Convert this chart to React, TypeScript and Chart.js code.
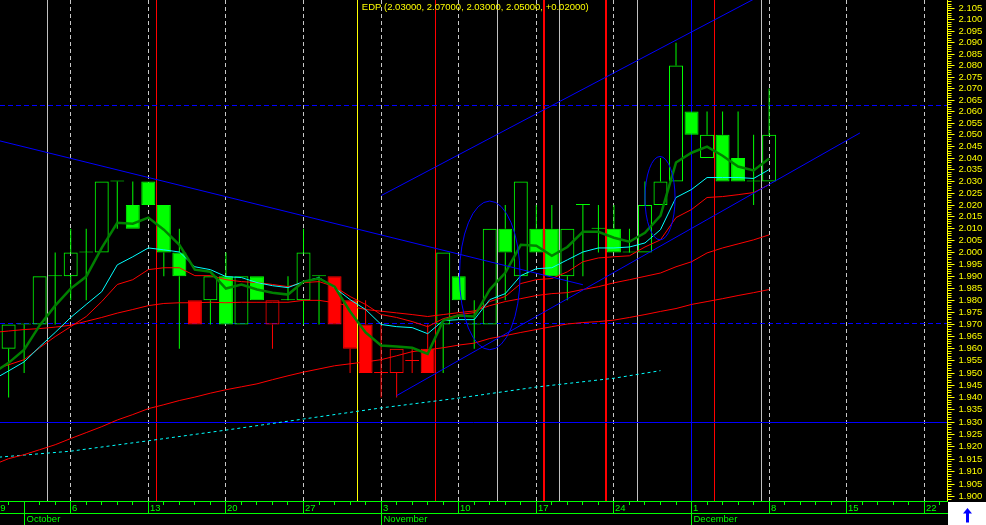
import React, { useEffect, useRef } from 'react';
import { Chart, registerables } from 'chart.js';

Chart.register(...registerables);

// ---------------- data ----------------
const ticker = 'EDP';
const candleIdx = [1,2,3,4,5,6,7,8,9,10,11,12,13,14,15,16,17,18,19,20,21,22,23,24,25,26,27,28,29,30,31,32,33,34,35,36,37,38,39,40,41,42,43,44,45,46,47,48,49,50];
const opens = [1.96,1.97,1.97,1.99,1.99,2.00,2.00,2.03,2.02,2.03, 2.02,2.00,1.98,1.98,1.99,1.97,1.99,1.97,1.98,1.98, 1.99,1.99,1.98,1.97,1.95,1.95,1.955,1.96,1.97,1.99, 1.97,1.97,2.01,1.99,2.01,2.01,1.99,2.02,2.01,2.01, 2.00,2.00,2.02,2.03,2.06,2.04,2.05,2.04,2.03,2.03];
const highs = [1.97,1.97,1.99,2.00,2.01,2.01,2.03,2.03,2.03,2.03, 2.02,2.01,1.98,1.99,2.00,1.99,1.99,1.98,1.99,2.01, 1.99,1.99,1.98,1.98,1.97,1.96,1.96,1.97,2.00,1.99, 1.98,2.01,2.02,2.03,2.02,2.02,2.01,2.02,2.02,2.02, 2.01,2.03,2.04,2.09,2.06,2.06,2.06,2.06,2.05,2.07];
const lows = [1.94,1.95,1.97,1.97,1.98,1.98,2.00,2.01,2.01,2.02, 1.99,1.96,1.97,1.97,1.97,1.97,1.98,1.96,1.98,1.97, 1.97,1.97,1.95,1.95,1.94,1.94,1.95,1.95,1.95,1.98, 1.96,1.97,1.98,1.99,2.00,1.99,1.98,1.99,2.00,2.00, 2.00,2.00,2.02,2.03,2.05,2.04,2.03,2.03,2.02,2.03];
const closes = [1.97,1.97,1.99,1.99,2.00,2.00,2.03,2.03,2.01,2.02, 2.00,1.99,1.97,1.99,1.97,1.99,1.98,1.98,1.98,2.00, 1.99,1.97,1.96,1.95,1.95,1.96,1.955,1.95,2.00,1.98, 1.97,2.01,2.00,2.03,2.00,1.99,2.01,2.02,2.01,2.00, 2.00,2.02,2.03,2.08,2.05,2.05,2.03,2.03,2.03,2.05];
const candleColor = ['G','G','G','G','G','G','G','G','G','G', 'G','G','R','G','G','G','G','R','G','G', 'G','R','R','R','R','R','R','R','G','G', 'G','G','G','G','G','G','G','G','G','G', 'G','G','G','G','G','G','G','G','G','G'];

const maIdx = [0,1,2,3,4,5,6,7,8,9,10,11,12,13,14,15,16,17,18,19,20,21,22,23,24,25,26,27,28,29,30,31,32,33,34,35,36,37,38,39,40,41,42,43,44,45,46,47,48,49,50];
const maDarkGreen = [1.9501,1.9542,1.9596,1.9696,1.9778,1.9849,1.9899,2.0019,2.0125,2.0121, 2.0147,2.0096,2.0032,1.9928,1.9919,1.9849,1.9866,1.9845,1.9832,1.9824, 1.9878,1.9891,1.9857,1.9754,1.9667,1.9613,1.9609,1.9604,1.9579,1.9716, 1.9737,1.9733,1.9845,1.9915,2.0032,2.0028,1.9986,2.0023,2.0087,2.0087, 2.0062,2.0045,2.0083,2.0155,2.0381,2.0423,2.0449,2.0410,2.0364,2.0347,2.0398];
const maCyan = [1.9473,1.9509,1.9546,1.9608,1.9667,1.9729,1.9783,1.9836,1.9948,1.9982, 2.0019,2.0011,2.0002,1.9940,1.9928,1.9899,1.9895,1.9874,1.9861,1.9853, 1.9878,1.9895,1.9853,1.9803,1.9762,1.9700,1.9691,1.9687,1.9662,1.9716, 1.9720,1.9720,1.9803,1.9828,1.9903,1.9932,1.9936,1.9969,2.0002,2.0019, 2.0019,2.0023,2.0040,2.0096,2.0232,2.0266,2.0317,2.0317,2.0317,2.0313,2.0351];
const maRedFast = [1.9513,1.9534,1.9555,1.9604,1.9650,1.9691,1.9733,1.9795,1.9866,1.9886, 1.9928,1.9936,1.9936,1.9903,1.9903,1.9886,1.9878,1.9874,1.9866,1.9857, 1.9874,1.9878,1.9857,1.9816,1.9783,1.9741,1.9729,1.9712,1.9691,1.9724, 1.9741,1.9749,1.9795,1.9816,1.9870,1.9886,1.9891,1.9919,1.9961,1.9977, 1.9982,1.9986,2.0023,2.0053,2.0147,2.0181,2.0232,2.0236,2.0244,2.0253,2.0287];
const maRedMid = [1.9667,1.9673,1.9679,1.9683,1.9689,1.9697,1.9713,1.9729,1.9747,1.9762, 1.9778,1.9787,1.9790,1.9790,1.9792,1.9790,1.9792,1.9792,1.9792,1.9792, 1.9800,1.9800,1.9790,1.9776,1.9762,1.9755,1.9748,1.9741,1.9733,1.9741, 1.9749,1.9756,1.9778,1.9795,1.9807,1.9820,1.9828,1.9832,1.9845,1.9857, 1.9873,1.9886,1.9900,1.9914,1.9940,1.9961,1.9998,2.0019,2.0036,2.0053,2.0074];
const maRedSlow = [1.9128,1.9153,1.9169,1.9189,1.9209,1.9234,1.9258,1.9282,1.9309,1.9331, 1.9355,1.9371,1.9388,1.9402,1.9418,1.9432,1.9444,1.9456,1.9473,1.9489, 1.9504,1.9517,1.9530,1.9538,1.9546,1.9555,1.9571,1.9588,1.9596,1.9604, 1.9615,1.9623,1.9642,1.9654,1.9667,1.9679,1.9691,1.9702,1.9708,1.9712, 1.9718,1.9729,1.9741,1.9754,1.9766,1.9783,1.9795,1.9807,1.9820,1.9832,1.9845];

const dottedIdx = [0,5,10,15,20,25,30,35,40,43];
const dottedCyan = [1.9157,1.9183,1.9225,1.9268,1.9313,1.9358,1.9398,1.9443,1.9479,1.9510];

// trendlines: [startIdx, startPrice, endIdx, endPrice]
const trendDown = [0, 2.0481, 38, 1.9865];
const trendUpperChannel = [25, 2.0240, 50, 2.1128];
const trendLowerChannel = [26, 1.9408, 55.85, 2.0508];

// ellipses
const ellLeft = [30.05, 42.0];
const ellRight = [33.95, 43.94];
const ellTop = [2.0217, 2.0407];
const ellBottom = [1.9596, 2.0053];

// vertical & horizontal guides
const weekIdx = [0,5,10,15,20,25,30,35,40,45,50,55,60];
const dayLabels = ['29','6','13','20','27','3','10','17','24','1','8','15','22'];
const monthIdx = [2, 25, 45];
const monthLabels = ['October','November','December'];
const whiteLines = [3.5, 32.5, 36.5, 41.5, 49.5];
const redLines = [10.5, 28.5, 46.5];
const redBoldLines = [35.5, 39.5];
const yellowLines = [23.5];
const blueLines = [45];
const blueDashedLevels = [2.0625, 1.9705];
const blueSolidLevels = [1.93];

const X_MIN = 0.4446, X_MAX = 61.46;
const Y_MIN = 1.89835, Y_MAX = 2.10883;
const LAST_DAY = 61;

// ---------------- drawing ----------------
const GREEN = '#00ff00', RED = '#ff0000', CYAN = '#00ffff', BLUE = '#0000ff', YELLOW = '#ffff00';
const FONT = "9.5px 'Liberation Sans', Arial, sans-serif";
const snap = (v: number) => Math.floor(v) + 0.5;
function seg(ctx: CanvasRenderingContext2D, x1: number, y1: number, x2: number, y2: number) {
  ctx.beginPath(); ctx.moveTo(x1, y1); ctx.lineTo(x2, y2); ctx.stroke();
}

const decor = {
  id: 'decor',
  beforeDraw(chart: any) {
    const { ctx, width, height } = chart;
    ctx.save(); ctx.fillStyle = '#000'; ctx.fillRect(0, 0, width, height); ctx.restore();
  },
  beforeDatasetsDraw(chart: any) {
    const { ctx, chartArea: a, scales } = chart;
    const x = scales.x, y = scales.y;
    ctx.save();
    ctx.beginPath(); ctx.rect(a.left, a.top, a.right - a.left, a.bottom - a.top); ctx.clip();
    ctx.lineWidth = 1;
    ctx.strokeStyle = '#c8c8c8'; ctx.setLineDash([4, 3]);
    weekIdx.forEach(i => { const X = snap(x.getPixelForValue(i)); seg(ctx, X, a.top, X, a.bottom); });
    ctx.setLineDash([]);
    const verts = (list: number[], color: string, w: number) => {
      ctx.strokeStyle = color; ctx.lineWidth = w;
      list.forEach(i => { const X = w > 1 ? Math.round(x.getPixelForValue(i)) : snap(x.getPixelForValue(i)); seg(ctx, X, a.top, X, a.bottom); });
    };
    verts(whiteLines, '#c0c0c0', 1);
    verts(redLines, RED, 1);
    verts(redBoldLines, RED, 2);
    verts(yellowLines, YELLOW, 1);
    verts(blueLines, BLUE, 1);
    ctx.lineWidth = 1; ctx.strokeStyle = BLUE;
    ctx.setLineDash([5, 3]);
    blueDashedLevels.forEach(v => { const Y = snap(y.getPixelForValue(v)); seg(ctx, a.left, Y, a.right, Y); });
    ctx.setLineDash([]);
    blueSolidLevels.forEach(v => { const Y = snap(y.getPixelForValue(v)); seg(ctx, a.left, Y, a.right, Y); });
    ctx.restore();
  },
  afterDatasetsDraw(chart: any) {
    const { ctx, chartArea: a, scales } = chart;
    const x = scales.x, y = scales.y;
    ctx.save();
    ctx.beginPath(); ctx.rect(a.left, a.top, a.right - a.left, a.bottom - a.top); ctx.clip();
    ctx.strokeStyle = BLUE; ctx.lineWidth = 1;
    ellLeft.forEach((l, k) => {
      const xl = x.getPixelForValue(l), xr = x.getPixelForValue(ellRight[k]);
      const yt = y.getPixelForValue(ellTop[k]), yb = y.getPixelForValue(ellBottom[k]);
      ctx.beginPath();
      ctx.ellipse((xl + xr) / 2, (yt + yb) / 2, (xr - xl) / 2, (yb - yt) / 2, 0, 0, Math.PI * 2);
      ctx.stroke();
    });
    ctx.restore();
  },
  afterDraw(chart: any) {
    const { ctx, chartArea: a, scales, width: W, height: H } = chart;
    const x = scales.x, y = scales.y;
    ctx.save();
    ctx.font = FONT;
    ctx.lineWidth = 1;
    // ---- x axis ----
    const top = Math.round(a.bottom) + 0.5;
    const mid = top + 12;
    ctx.save();
    ctx.beginPath(); ctx.rect(0, a.bottom, a.right + 1, H - a.bottom); ctx.clip();
    ctx.strokeStyle = GREEN; ctx.fillStyle = GREEN;
    seg(ctx, 0, top, a.right + 1, top);
    seg(ctx, 0, mid, a.right + 1, mid);
    for (let i = 0; i <= LAST_DAY; i++) {
      const X = snap(x.getPixelForValue(i));
      if (weekIdx.includes(i)) seg(ctx, X, top, X, mid);
      else seg(ctx, X, top, X, top + 3.5);
    }
    ctx.textBaseline = 'middle'; ctx.textAlign = 'left';
    weekIdx.forEach((i, k) => { const X = snap(x.getPixelForValue(i)); ctx.fillText(dayLabels[k], X + 1.5, top + 6.5); });
    monthIdx.forEach((i, k) => {
      const X = snap(x.getPixelForValue(i));
      seg(ctx, X, top, X, H);
      ctx.fillText(monthLabels[k], X + 2, mid + 6);
    });
    ctx.restore();
    // ---- y axis ----
    const ax = Math.round(a.right) + 0.5;
    ctx.strokeStyle = YELLOW; ctx.fillStyle = YELLOW;
    seg(ctx, ax, 0, ax, a.bottom);
    ctx.textBaseline = 'middle'; ctx.textAlign = 'left';
    for (let k = 1899; k <= 2108; k++) {
      const v = k / 1000;
      const Y = snap(y.getPixelForValue(v));
      if (Y < 0 || Y > a.bottom) continue;
      const major = k % 5 === 0;
      seg(ctx, ax, Y, ax + (major ? 7 : 4), Y);
      if (major) ctx.fillText(v.toFixed(3), ax + 11, Y);
    }
    // ---- corner box with arrow ----
    ctx.fillStyle = '#ffffff';
    ctx.fillRect(ax + 0.5, top + 0.5, W - ax, H - top);
    ctx.fillStyle = BLUE;
    const cx = ax + 20;
    ctx.beginPath(); ctx.moveTo(cx, top + 6.5); ctx.lineTo(cx - 4.5, top + 12); ctx.lineTo(cx + 4.5, top + 12); ctx.closePath(); ctx.fill();
    ctx.fillRect(cx - 1.5, top + 11.5, 3, 9.5);
    // ---- title ----
    const n = closes.length - 1;
    const f = (v: number) => v.toFixed(5);
    const chg = closes[n] - closes[n - 1];
    const title = `${ticker} (${f(opens[n])}, ${f(highs[n])}, ${f(lows[n])}, ${f(closes[n])}, ${chg >= 0 ? '+' : ''}${f(chg)})`;
    ctx.fillStyle = YELLOW; ctx.textAlign = 'left'; ctx.textBaseline = 'middle';
    ctx.fillText(title, x.getPixelForValue(yellowLines[0]) + 4, 7.5);
    ctx.restore();
  },
};

export default function App() {
  const ref = useRef<HTMLCanvasElement>(null);
  useEffect(() => {
    document.body.style.margin = '0';
    document.body.style.background = '#000';
    const canvas = ref.current;
    if (!canvas) return;
    const colors = candleColor.map(c => (c === 'G' ? GREEN : RED));
    const body = candleIdx.map((d, k) => ({ x: d, y: [opens[k], closes[k]] }));
    const bodyBg = candleIdx.map((_, k) => (closes[k] > opens[k] ? 'rgba(0,0,0,0)' : colors[k]));
    const upper = candleIdx.map((d, k) => ({ x: d, y: [Math.max(opens[k], closes[k]), highs[k]] }));
    const lower = candleIdx.map((d, k) => ({ x: d, y: [lows[k], Math.min(opens[k], closes[k])] }));
    const series = (idx: number[], vals: number[]) => idx.map((d, k) => ({ x: d, y: vals[k] }));
    const trend = (t: number[]) => [{ x: t[0], y: t[1] }, { x: t[2], y: t[3] }];
    const lineDs = (data: any[], color: string, width: number, order: number, dash?: number[]) => ({
      type: 'line' as const, data, borderColor: color, borderWidth: width, pointRadius: 0,
      fill: false, tension: 0, order, borderDash: dash || [],
    });
    const chart = new Chart(canvas, {
      type: 'bar',
      data: {
        datasets: [
          lineDs(trend(trendDown), BLUE, 1, 0),
          lineDs(trend(trendUpperChannel), BLUE, 1, 0),
          lineDs(trend(trendLowerChannel), BLUE, 1, 0),
          lineDs(series(maIdx, maDarkGreen), '#008000', 2.5, 1),
          lineDs(series(maIdx, maCyan), CYAN, 1, 2),
          lineDs(series(maIdx, maRedFast), RED, 1, 3),
          lineDs(series(maIdx, maRedMid), RED, 1, 4),
          lineDs(series(maIdx, maRedSlow), RED, 1, 5),
          lineDs(series(dottedIdx, dottedCyan), CYAN, 1, 5, [3, 3]),
          { type: 'bar', data: body as any, backgroundColor: bodyBg, borderColor: colors, borderWidth: 1,
            borderSkipped: false, barThickness: 14, minBarLength: 1, grouped: false, inflateAmount: 0, order: 9 } as any,
          { type: 'bar', data: upper as any, backgroundColor: colors, borderWidth: 0,
            barThickness: 1, grouped: false, inflateAmount: 0, order: 10 } as any,
          { type: 'bar', data: lower as any, backgroundColor: colors, borderWidth: 0,
            barThickness: 1, grouped: false, inflateAmount: 0, order: 10 } as any,
        ],
      },
      options: {
        responsive: false,
        animation: false,
        events: [],
        layout: { padding: { left: 0, top: 0, right: 39, bottom: 24 } },
        plugins: { legend: { display: false }, tooltip: { enabled: false } },
        scales: {
          x: { type: 'linear', min: X_MIN, max: X_MAX, offset: false, display: false, bounds: 'data' } as any,
          y: { type: 'logarithmic', min: Y_MIN, max: Y_MAX, display: false, bounds: 'data' } as any,
        },
      },
      plugins: [decor],
    });
    return () => chart.destroy();
  }, []);
  return <canvas ref={ref} width={986} height={525} style={{ display: 'block', width: 986, height: 525 }} />;
}
